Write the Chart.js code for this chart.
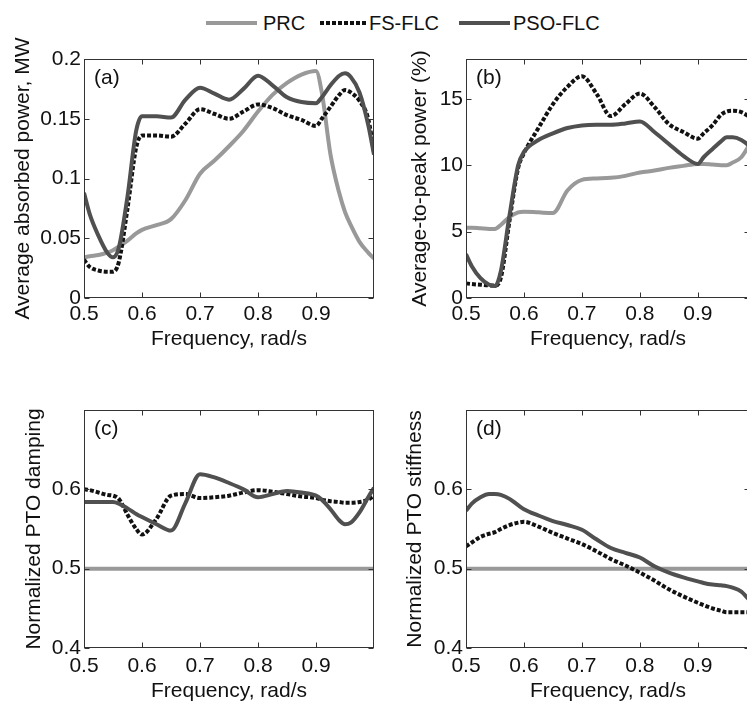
<!DOCTYPE html>
<html>
<head>
<meta charset="utf-8">
<script src="https://cdn.jsdelivr.net/npm/chart.js@4"></script>
<style>
  html, body { margin: 0; padding: 0; background: #fff; overflow: hidden; }
  body { width: 747px; height: 702px; position: relative; font-family: "Liberation Sans", Arial, sans-serif; }
  canvas { position: absolute; }
  .muestra { position: absolute; top: 21px; height: 4px; }
  .txt { position: absolute; top: 11px; line-height: 24px; font-size: 20px; color: #111; white-space: nowrap; }
</style>
</head>
<body>
<!-- leyenda comun -->
<span class="muestra" style="left:206px;width:51px;background:#999"></span>
<span class="txt" style="left:263px">PRC</span>
<span class="muestra" style="left:320px;width:46px;background:repeating-linear-gradient(90deg,#111 0 4px,transparent 4px 6px)"></span>
<span class="txt" style="left:369px">FS-FLC</span>
<span class="muestra" style="left:459px;width:51px;background:#505050"></span>
<span class="txt" style="left:513px">PSO-FLC</span>

<canvas id="g1" width="380" height="340" style="left:0;top:20px"></canvas>
<canvas id="g2" width="380" height="340" style="left:370px;top:20px"></canvas>
<canvas id="g3" width="380" height="314" style="left:0;top:390px"></canvas>
<canvas id="g4" width="380" height="314" style="left:370px;top:390px"></canvas>

<script>
// frecuencias comunes, rad/s
const freq = [0.5, 0.51, 0.525, 0.54, 0.55, 0.56, 0.575, 0.59, 0.6, 0.625, 0.65, 0.675, 0.7, 0.725, 0.75,
              0.775, 0.8, 0.825, 0.85, 0.875, 0.9, 0.91, 0.925, 0.94, 0.95, 0.96, 0.975, 0.99, 1.0];
const xTicks = [0.5, 0.6, 0.7, 0.8, 0.9];

// (a) potencia media absorbida, MW
const potPRC = [0.034,0.035,0.036,0.038,0.040,0.043,0.048,0.054,0.057,0.061,0.066,0.082,0.104,0.115,0.127,
                0.140,0.156,0.170,0.180,0.187,0.190,0.172,0.120,0.088,0.072,0.061,0.047,0.038,0.033];
const potFS  = [0.032,0.026,0.023,0.022,0.022,0.030,0.075,0.126,0.136,0.136,0.135,0.146,0.158,0.154,0.150,
                0.156,0.162,0.159,0.153,0.149,0.144,0.150,0.160,0.170,0.174,0.172,0.165,0.150,0.122];
const potPSO = [0.088,0.070,0.052,0.038,0.034,0.042,0.085,0.140,0.152,0.152,0.151,0.166,0.176,0.171,0.166,
                0.175,0.186,0.178,0.168,0.164,0.163,0.168,0.178,0.186,0.188,0.185,0.172,0.145,0.120];
const potTicks = [0, 0.05, 0.1, 0.15, 0.2];

// (b) relacion media/pico, %
const picoPRC = [5.3,5.3,5.25,5.2,5.2,5.5,6.1,6.45,6.5,6.45,6.4,8.1,8.9,9.0,9.05,
                 9.2,9.45,9.6,9.8,9.95,10.1,10.1,10.05,10.0,10.0,10.2,10.6,11.6,12.2];
const picoFS  = [1.1,1.05,1.0,0.95,0.95,1.5,5.8,9.8,10.9,12.8,14.6,15.9,16.7,15.4,13.7,
                 14.6,15.4,14.4,13.1,12.5,12.0,12.4,13.0,13.8,14.05,14.1,14.0,13.6,13.2];
const picoPSO = [3.3,2.4,1.5,1.0,0.9,2.0,6.2,10.0,11.0,11.9,12.4,12.8,13.0,13.05,13.05,
                 13.15,13.3,12.5,11.6,10.7,10.1,10.6,11.2,11.8,12.1,12.1,11.9,11.4,10.9];
const picoTicks = [0, 5, 10, 15];

// (c) amortiguamiento PTO normalizado
const amorPRC = freq.map(() => 0.5);
const amorFS  = [0.600,0.599,0.596,0.593,0.592,0.588,0.568,0.550,0.543,0.563,0.592,0.594,0.589,0.590,0.592,
                 0.596,0.599,0.597,0.594,0.591,0.589,0.587,0.585,0.584,0.583,0.583,0.584,0.587,0.592];
const amorPSO = [0.584,0.584,0.584,0.584,0.584,0.582,0.576,0.569,0.565,0.556,0.548,0.583,0.619,0.615,0.608,
                 0.600,0.590,0.594,0.598,0.596,0.592,0.587,0.575,0.561,0.556,0.558,0.571,0.590,0.602];

// (d) rigidez PTO normalizada
const rigPRC = freq.map(() => 0.5);
const rigFS  = [0.528,0.533,0.540,0.544,0.546,0.550,0.555,0.558,0.559,0.553,0.545,0.538,0.531,0.522,0.512,
                0.504,0.495,0.485,0.474,0.465,0.457,0.454,0.450,0.447,0.445,0.445,0.445,0.445,0.445];
const rigPSO = [0.573,0.582,0.590,0.594,0.594,0.593,0.588,0.580,0.575,0.567,0.560,0.555,0.549,0.537,0.526,
                0.520,0.514,0.503,0.495,0.489,0.484,0.482,0.480,0.479,0.478,0.476,0.471,0.460,0.455];
const ptoTicks = [0.4, 0.5, 0.6];

Chart.defaults.font.family = '"Liberation Sans", Arial, sans-serif';
Chart.defaults.font.size = 21;
Chart.defaults.color = '#111';

// marco con marcas hacia dentro y letra del panel
const marco = {
  id: 'marco',
  afterDraw(chart, args, opts) {
    const { ctx, chartArea: a, scales } = chart;
    const L = Math.round(a.left) + 0.5, R = Math.round(a.right) - 0.5;
    const T = Math.round(a.top) + 0.5, B = Math.round(a.bottom) - 0.5;
    ctx.save();
    ctx.strokeStyle = '#333';
    ctx.lineWidth = 1;
    ctx.strokeRect(L, T, R - L, B - T);
    ctx.beginPath();
    scales.x.ticks.forEach(t => {
      const p = Math.round(scales.x.getPixelForValue(t.value)) + 0.5;
      ctx.moveTo(p, B); ctx.lineTo(p, B - 5);
      ctx.moveTo(p, T); ctx.lineTo(p, T + 5);
    });
    scales.y.ticks.forEach(t => {
      const p = Math.round(scales.y.getPixelForValue(t.value)) + 0.5;
      ctx.moveTo(L, p); ctx.lineTo(L + 5, p);
      ctx.moveTo(R, p); ctx.lineTo(R - 5, p);
    });
    ctx.stroke();
    ctx.fillStyle = '#111';
    ctx.font = '21px "Liberation Sans", Arial, sans-serif';
    ctx.textBaseline = 'middle';
    ctx.fillText(opts.letra, a.left + 10, a.top + 19);
    ctx.restore();
  }
};

function serie(vals, estilo) {
  return Object.assign({
    data: freq.map((f, i) => ({ x: f, y: vals[i] })),
    pointRadius: 0,
    borderWidth: 4,
    fill: false,
    cubicInterpolationMode: 'monotone'
  }, estilo);
}

function panel(id, c) {
  new Chart(document.getElementById(id), {
    type: 'line',
    data: {
      datasets: [
        serie(c.prc, { label: 'PRC', borderColor: '#999', order: 2 }),
        serie(c.fs, { label: 'FS-FLC', borderColor: '#111', borderDash: [4, 2], order: 1 }),
        serie(c.pso, { label: 'PSO-FLC', borderColor: '#505050', order: 0 })
      ]
    },
    options: {
      responsive: false,
      animation: false,
      layout: { padding: { top: c.padTop, right: c.padRight, left: 0, bottom: 0 } },
      plugins: { legend: { display: false }, tooltip: { enabled: false }, marco: { letra: c.letra } },
      scales: {
        x: {
          type: 'linear', min: 0.5, max: c.xMax,
          grid: { display: false, drawTicks: false }, border: { display: false },
          ticks: { padding: c.xPad, autoSkip: false, maxRotation: 0, callback: v => String(v) },
          afterBuildTicks: s => { s.ticks = xTicks.map(v => ({ value: v })); },
          afterFit: s => { s.height = c.xAlto; },
          title: { display: true, text: 'Frequency, rad/s', padding: { top: 0, bottom: c.xTitPad } }
        },
        y: {
          min: c.yMin, max: c.yMax,
          grid: { display: false, drawTicks: false }, border: { display: false },
          ticks: { padding: 3, callback: v => String(v) },
          afterBuildTicks: s => { s.ticks = c.yTicks.map(v => ({ value: v })); },
          afterFit: s => { s.width = c.yAncho; },
          title: { display: true, text: c.yTitulo, padding: { top: c.yTitPad, bottom: 0 } }
        }
      }
    },
    plugins: [marco]
  });
}

panel('g1', { prc: potPRC, fs: potFS, pso: potPSO, letra: '(a)', yTitulo: 'Average absorbed power, MW',
  yMin: 0, yMax: 0.2, yTicks: potTicks, xMax: 1.0, padTop: 39, padRight: 6, yAncho: 84, yTitPad: 11,
  xAlto: 62, xPad: 4, xTitPad: 8 });
panel('g2', { prc: picoPRC, fs: picoFS, pso: picoPSO, letra: '(b)', yTitulo: 'Average-to-peak power (%)',
  yMin: 0, yMax: 18, yTicks: picoTicks, xMax: 0.99, padTop: 39, padRight: 0, yAncho: 96, yTitPad: 38,
  xAlto: 62, xPad: 4, xTitPad: 8 });
panel('g3', { prc: amorPRC, fs: amorFS, pso: amorPSO, letra: '(c)', yTitulo: 'Normalized PTO damping',
  yMin: 0.4, yMax: 0.7, yTicks: ptoTicks, xMax: 1.0, padTop: 20, padRight: 6, yAncho: 84, yTitPad: 22,
  xAlto: 56, xPad: 6, xTitPad: 0 });
panel('g4', { prc: rigPRC, fs: rigFS, pso: rigPSO, letra: '(d)', yTitulo: 'Normalized PTO stiffness',
  yMin: 0.4, yMax: 0.7, yTicks: ptoTicks, xMax: 0.99, padTop: 20, padRight: 0, yAncho: 96, yTitPad: 33,
  xAlto: 56, xPad: 6, xTitPad: 0 });
</script>
</body>
</html>
